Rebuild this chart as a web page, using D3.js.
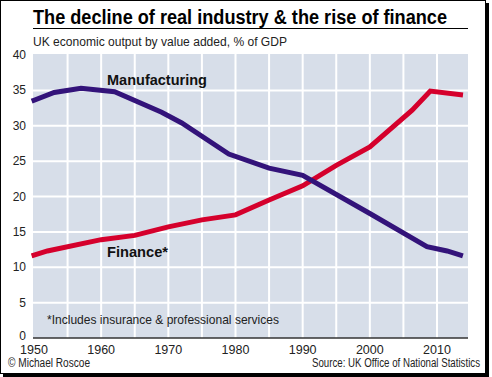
<!DOCTYPE html>
<html>
<head>
<meta charset="utf-8">
<script src="https://cdn.jsdelivr.net/npm/d3@7"></script>
<style>
  html, body { margin: 0; padding: 0; background: #fff; }
  svg { display: block; }
</style>
</head>
<body>
<svg id="chart" width="492" height="377"></svg>
<script>
// ---- data ----
const manufacturingYears  = [1950, 1953, 1957, 1962, 1969, 1972, 1979, 1985, 1990, 2000, 2008.5, 2011.5, 2013.5];
const manufacturingValues = [33.6, 34.7, 35.3, 34.8, 31.9, 30.4, 26.0, 24.0, 23.0, 17.6, 12.9, 12.3, 11.7];
const financeYears  = [1950, 1952, 1960, 1965, 1970, 1975, 1980, 1985, 1990, 1995, 2000, 2006.3, 2009, 2013.5];
const financeValues = [11.7, 12.3, 13.9, 14.5, 15.7, 16.7, 17.4, 19.5, 21.5, 24.4, 27.0, 32.2, 34.9, 34.4];
const xTickLabels = [1950, 1960, 1970, 1980, 1990, 2000, 2010];
const yTickLabels = [0, 5, 10, 15, 20, 25, 30, 35, 40];
const xGridYears  = [1955, 1960, 1965, 1970, 1975, 1980, 1985, 1990, 1995, 2000, 2005, 2010];

const svg = d3.select("#chart");
const FONT = "'Liberation Sans', Arial, sans-serif";

// scales
const x = d3.scaleLinear().domain([1950, 2010]).range([34, 437]);
const y = d3.scaleLinear().domain([0, 40]).range([338, 55]);
const plotLeft = 33, plotRight = 468, plotTop = 54, plotBottom = 338;

// frame with shadow
svg.append("rect").attr("x", 3).attr("y", 3).attr("width", 486).attr("height", 374).attr("fill", "#000");
svg.append("rect").attr("x", 0.5).attr("y", 0.5).attr("width", 485).attr("height", 373)
  .attr("fill", "#fff").attr("stroke", "#000").attr("stroke-width", 1);

// title
svg.append("text").attr("x", 33).attr("y", 24)
  .attr("font-family", FONT).attr("font-weight", "bold").attr("font-size", 20)
  .attr("textLength", 414).attr("lengthAdjust", "spacingAndGlyphs")
  .attr("fill", "#000")
  .text("The decline of real industry & the rise of finance");
svg.append("line").attr("x1", 33).attr("x2", 468).attr("y1", 28.5).attr("y2", 28.5)
  .attr("stroke", "#000").attr("stroke-width", 1.2);

// subtitle
svg.append("text").attr("x", 33).attr("y", 46)
  .attr("font-family", FONT).attr("font-size", 12.5)
  .attr("textLength", 254).attr("lengthAdjust", "spacingAndGlyphs")
  .attr("fill", "#222")
  .text("UK economic output by value added, % of GDP");

// plot background
svg.append("rect").attr("x", plotLeft).attr("y", plotTop)
  .attr("width", plotRight - plotLeft).attr("height", plotBottom - plotTop)
  .attr("fill", "#d7dee9");

// grid
const g = svg.append("g");
g.selectAll("line.v").data(xGridYears).enter().append("line")
  .attr("x1", d => x(d)).attr("x2", d => x(d))
  .attr("y1", plotTop).attr("y2", plotBottom)
  .attr("stroke", "#fff").attr("stroke-width", 2);
g.selectAll("line.h").data(yTickLabels.filter(d => d > 0 && d < 40)).enter().append("line")
  .attr("x1", plotLeft).attr("x2", plotRight)
  .attr("y1", d => y(d)).attr("y2", d => y(d))
  .attr("stroke", "#fff").attr("stroke-width", 2);

// bottom axis line
svg.append("line").attr("x1", plotLeft).attr("x2", plotRight)
  .attr("y1", plotBottom).attr("y2", plotBottom)
  .attr("stroke", "#333").attr("stroke-width", 1.5);

// y tick labels
svg.selectAll("text.yt").data(yTickLabels).enter().append("text")
  .attr("x", 26).attr("y", d => y(d) + (d === 0 ? 2 : 4))
  .attr("text-anchor", "end")
  .attr("font-family", FONT).attr("font-size", 12).attr("fill", "#222")
  .text(d => d);

// x tick labels
svg.selectAll("text.xt").data(xTickLabels).enter().append("text")
  .attr("x", d => x(d)).attr("y", 354)
  .attr("text-anchor", "middle")
  .attr("font-family", FONT).attr("font-size", 12.5).attr("fill", "#222")
  .text(d => d);

// lines
const line = d3.line().x(d => x(d[0])).y(d => y(d[1]));
const manuf = manufacturingYears.map((yr, i) => [yr, manufacturingValues[i]]);
const fin = financeYears.map((yr, i) => [yr, financeValues[i]]);
svg.append("path").datum(fin).attr("d", line)
  .attr("fill", "none").attr("stroke", "#d5002c").attr("stroke-width", 5)
  .attr("stroke-linejoin", "miter").attr("stroke-linecap", "square");
svg.append("path").datum(manuf).attr("d", line)
  .attr("fill", "none").attr("stroke", "#33137a").attr("stroke-width", 5)
  .attr("stroke-linejoin", "miter").attr("stroke-linecap", "square");

// series labels
svg.append("text").attr("x", 107).attr("y", 85)
  .attr("font-family", FONT).attr("font-weight", "bold").attr("font-size", 15)
  .attr("textLength", 100).attr("lengthAdjust", "spacingAndGlyphs")
  .attr("fill", "#111").text("Manufacturing");
svg.append("text").attr("x", 107).attr("y", 257)
  .attr("font-family", FONT).attr("font-weight", "bold").attr("font-size", 15)
  .attr("textLength", 61).attr("lengthAdjust", "spacingAndGlyphs")
  .attr("fill", "#111").text("Finance*");

// footnote
svg.append("text").attr("x", 47).attr("y", 324)
  .attr("font-family", FONT).attr("font-size", 13)
  .attr("textLength", 232).attr("lengthAdjust", "spacingAndGlyphs")
  .attr("fill", "#222").text("*Includes insurance & professional services");

// credits
svg.append("text").attr("x", 8).attr("y", 367)
  .attr("font-family", FONT).attr("font-size", 12)
  .attr("textLength", 82).attr("lengthAdjust", "spacingAndGlyphs")
  .attr("fill", "#222").text("© Michael Roscoe");
svg.append("text").attr("x", 480).attr("y", 367).attr("text-anchor", "end")
  .attr("font-family", FONT).attr("font-size", 12)
  .attr("textLength", 168).attr("lengthAdjust", "spacingAndGlyphs")
  .attr("fill", "#222").text("Source: UK Office of National Statistics");
</script>
</body>
</html>
